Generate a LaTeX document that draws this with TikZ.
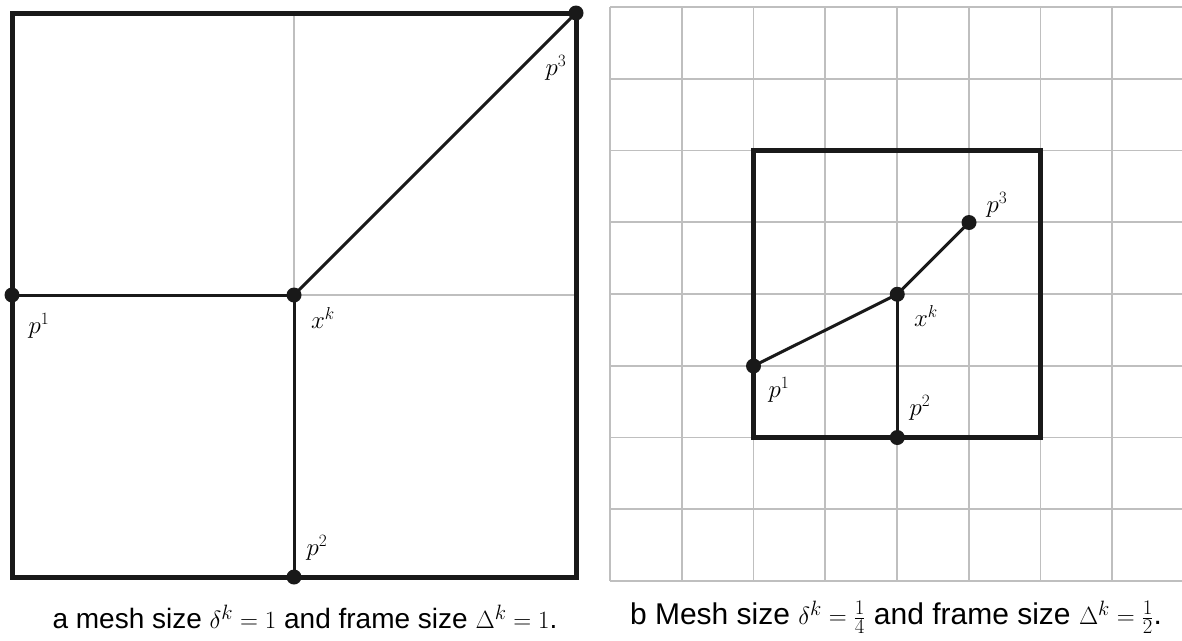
\documentclass[tikz,border=0pt]{standalone}
\usepackage{fontspec}
\newfontfamily\capfont{Liberation Sans}
\begin{document}
\begin{tikzpicture}[x=1pt,y=-1pt,
  framebox/.style={line width=5pt, black!90, line join=miter},
  conn/.style={line width=3pt, black!90},
  gline/.style={line width=1.6pt, black!25},
  dot/.style={circle, fill=black!90, inner sep=0pt, minimum size=15pt},
  lab/.style={font=\fontsize{26}{30}\selectfont, inner sep=0pt},
  captext/.style={font=\capfont\fontsize{28}{32}\selectfont, inner sep=0pt}]
\useasboundingbox (0,0) rectangle (1182,640);
% ---- panel a ----
\draw[gline] (294,13) -- (294,577);
\draw[gline] (12,295) -- (576,295);
\draw[framebox] (12,13) rectangle (576,577);
\node[dot] (axk) at (294,295) {};
\node[dot] (ap1) at (12,295) {};
\node[dot] (ap2) at (294,577) {};
\node[dot] (ap3) at (576,13) {};
\draw[conn] (ap1.center) -- (axk.center);
\draw[conn] (axk.center) -- (ap2.center);
\draw[conn] (axk.center) -- (ap3.center);
\node[lab] (lap1) at (39,326) {$p^1$};
\node[lab] (laxk) at (323,318) {$x^k$};
\node[lab] (lap2) at (317,548) {$p^2$};
\node[lab] (lap3) at (556,68) {$p^3$};
% ---- panel b ----
\foreach \i in {0,...,7} \draw[gline] (610+\i*71.75,7) -- (610+\i*71.75,581);
\foreach \j in {0,...,8} \draw[gline] (610,7+\j*71.75) -- (1182,7+\j*71.75);
\draw[framebox] (753.5,150.5) rectangle (1040.75,437.5);
\node[dot] (bxk) at (897.25,294.25) {};
\node[dot] (bp1) at (753.5,366) {};
\node[dot] (bp2) at (897.25,437.5) {};
\node[dot] (bp3) at (969,222.5) {};
\draw[conn] (bp1.center) -- (bxk.center);
\draw[conn] (bxk.center) -- (bp2.center);
\draw[conn] (bxk.center) -- (bp3.center);
\node[lab] (lbp3) at (997,205) {$p^3$};
\node[lab] (lbxk) at (926,316) {$x^k$};
\node[lab] (lbp1) at (779,390) {$p^1$};
\node[lab] (lbp2) at (920,408) {$p^2$};
% ---- captions ----
\node[captext] (capa) at (305,617) {a mesh size $\delta^k=1$ and frame size $\Delta^k=1$.};
\node[captext, font=\capfont\fontsize{30}{34}\selectfont] (capb) at (896,617) {b Mesh size $\delta^k=\frac{1}{4}$ and frame size $\Delta^k=\frac{1}{2}$.};
\end{tikzpicture}
\end{document}
